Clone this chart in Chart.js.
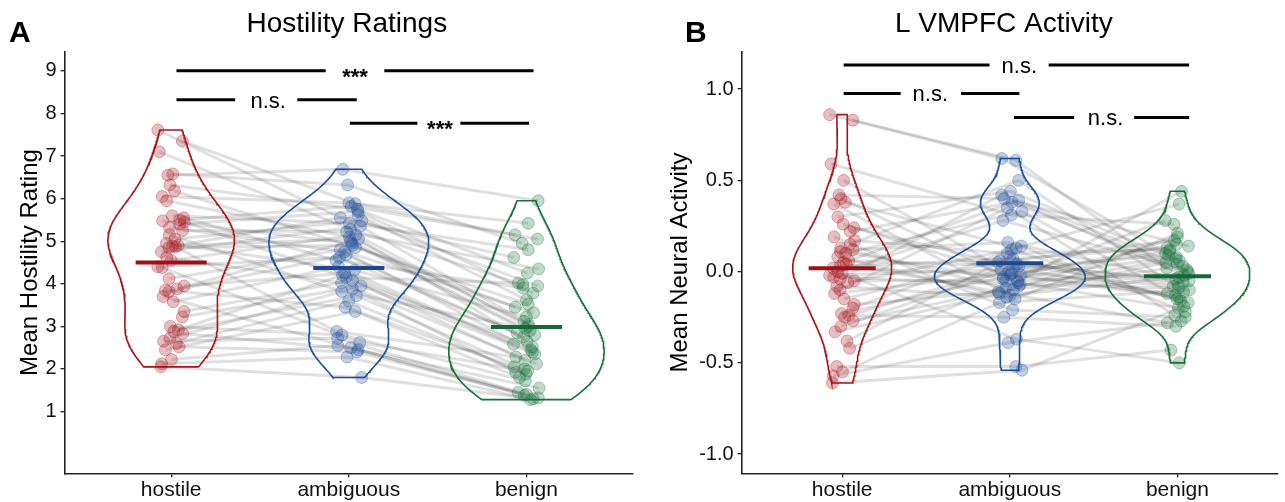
<!DOCTYPE html>
<html>
<head>
<meta charset="utf-8">
<script src="https://cdn.jsdelivr.net/npm/chart.js@4.4.1/dist/chart.umd.min.js"></script>
<style>
  html, body { margin: 0; padding: 0; background: #fff; }
  #wrap { position: relative; width: 1285px; height: 502px; overflow: hidden; }
  .panel { position: absolute; top: 0; height: 502px; }
</style>
</head>
<body>
<div id="wrap">
  <div class="panel" style="left:0px;width:640px"><canvas id="chartA" width="640" height="502"></canvas></div>
  <div class="panel" style="left:640px;width:645px"><canvas id="chartB" width="645" height="502"></canvas></div>
</div>
<script>
// categories on the x axis
const categories = ['hostile', 'ambiguous', 'benign'];

// Panel A: mean hostility rating per participant (same participant order in all three)
const hostilityHostile = [7.61, 7.35, 7.10, 6.58, 6.55, 6.32, 6.18, 6.05, 5.95, 5.60, 5.55, 5.50, 5.48, 5.45, 5.40, 5.32, 5.25, 5.15, 5.05, 4.95, 4.90, 4.88, 4.87, 4.85, 4.75, 4.62, 4.55, 4.40, 4.38, 4.12, 3.95, 3.88, 3.85, 3.82, 3.70, 3.58, 3.35, 3.22, 3.00, 2.92, 2.88, 2.83, 2.72, 2.65, 2.60, 2.52, 2.45, 2.22, 2.12, 2.05];
const hostilityAmbiguous = [5.55, 5.88, 5.28, 6.32, 6.69, 5.75, 4.85, 5.90, 5.10, 5.42, 4.55, 5.82, 4.95, 4.15, 5.70, 4.75, 5.22, 3.82, 5.48, 4.32, 5.05, 5.62, 2.88, 4.90, 5.35, 4.02, 5.15, 4.62, 2.62, 4.80, 4.25, 5.00, 3.45, 4.68, 2.50, 4.40, 4.08, 3.95, 2.80, 4.20, 3.72, 2.45, 3.88, 2.72, 3.60, 2.40, 3.35, 2.55, 2.28, 1.80];
const hostilityBenign = [4.62, 5.15, 3.98, 4.95, 5.95, 4.25, 3.52, 5.42, 3.05, 4.80, 3.90, 5.05, 2.80, 4.02, 3.78, 2.45, 4.35, 2.95, 3.95, 3.22, 2.65, 3.62, 2.28, 3.45, 3.12, 2.12, 3.00, 2.85, 1.95, 3.32, 2.58, 2.90, 2.05, 2.75, 1.45, 2.40, 2.52, 2.35, 1.72, 2.20, 2.00, 1.38, 1.92, 1.40, 1.88, 1.32, 1.80, 1.55, 1.28, 1.30];
const hostilityTicks = [1, 2, 3, 4, 5, 6, 7, 8, 9];

// Panel B: mean L VMPFC activity per participant
const vmpfcHostile = [0.86, 0.83, 0.59, 0.50, 0.42, 0.40, 0.38, 0.37, 0.30, 0.26, 0.24, 0.22, 0.19, 0.17, 0.15, 0.13, 0.12, 0.11, 0.10, 0.08, 0.06, 0.05, 0.04, 0.03, 0.02, 0.00, -0.01, -0.02, -0.03, -0.04, -0.05, -0.06, -0.08, -0.10, -0.12, -0.15, -0.18, -0.20, -0.23, -0.24, -0.25, -0.27, -0.30, -0.33, -0.38, -0.42, -0.52, -0.55, -0.57, -0.61];
const vmpfcAmbiguous = [0.62, 0.61, 0.31, 0.00, 0.40, -0.06, 0.13, -0.13, 0.44, -0.02, 0.05, 0.38, -0.21, 0.10, 0.50, -0.09, 0.16, -0.04, 0.33, -0.15, 0.03, 0.39, -0.11, 0.07, -0.02, 0.28, -0.37, 0.01, -0.07, 0.42, -0.05, 0.12, -0.14, 0.35, -0.01, 0.06, -0.10, 0.14, -0.03, -0.25, 0.04, -0.08, 0.02, -0.12, 0.08, -0.05, -0.52, -0.17, -0.39, -0.54];
const vmpfcBenign = [0.10, 0.02, 0.26, -0.08, 0.14, -0.20, 0.37, -0.03, 0.06, -0.14, 0.17, 0.00, -0.25, 0.12, -0.11, 0.44, -0.05, 0.08, -0.17, 0.21, -0.07, 0.04, -0.28, 0.13, -0.13, 0.01, -0.50, 0.09, -0.09, -0.02, 0.28, -0.16, 0.05, -0.24, 0.11, -0.06, 0.03, -0.22, 0.15, -0.30, -0.04, 0.07, -0.12, 0.19, -0.15, -0.01, -0.43, -0.10, -0.27, -0.19];
const vmpfcTicks = [-1.0, -0.5, 0.0, 0.5, 1.0];

// significance bars: line from..to with a gap for the label
const hostilityBrackets = [
  { from: 1.03, to: 3.04, gapFrom: 1.87, gapTo: 2.20, y: 9.0, label: '***', at: 2.035 },
  { from: 1.03, to: 2.045, gapFrom: 1.36, gapTo: 1.71, y: 8.32, label: 'n.s.', at: 1.546 },
  { from: 2.006, to: 3.015, gapFrom: 2.386, gapTo: 2.628, y: 7.77, label: '***', at: 2.513 }
];
const vmpfcBrackets = [
  { from: 1.009, to: 3.07, gapFrom: 1.879, gapTo: 2.232, y: 1.132, label: 'n.s.', at: 2.057 },
  { from: 1.009, to: 2.057, gapFrom: 1.349, gapTo: 1.709, y: 0.976, label: 'n.s.', at: 1.526 },
  { from: 2.025, to: 3.07, gapFrom: 2.384, gapTo: 2.742, y: 0.845, label: 'n.s.', at: 2.571 }
];

const colors = [[168, 20, 28], [29, 79, 155], [23, 113, 58]];
const FONT = '"Liberation Sans", Arial, Helvetica, sans-serif';
const rgba = (c, a) => `rgba(${c[0]},${c[1]},${c[2]},${a})`;

// fixed horizontal spread of the dots (layout only, deterministic hash)
const jitter = (i, g) => {
  const h = Math.sin(i * 12.9898 + g * 78.233) * 43758.5453;
  return ((h - Math.floor(h)) - 0.5) * 0.15;
};

// ggplot-like violin: gaussian kde, bw.nrd0, trimmed to data range
function density(values) {
  const s = values.slice().sort((a, b) => a - b);
  const n = s.length;
  const mean = s.reduce((a, b) => a + b, 0) / n;
  const sd = Math.sqrt(s.reduce((a, v) => a + (v - mean) ** 2, 0) / (n - 1));
  const q = p => { const h = (n - 1) * p, lo = Math.floor(h); return s[lo] + (h - lo) * ((s[lo + 1] ?? s[lo]) - s[lo]); };
  const bw = 0.9 * Math.min(sd, (q(0.75) - q(0.25)) / 1.34) * Math.pow(n, -0.2);
  const out = [];
  const steps = 200;
  for (let k = 0; k <= steps; k++) {
    const y = s[0] + (s[n - 1] - s[0]) * k / steps;
    let d = 0;
    for (const v of s) { const z = (y - v) / bw; d += Math.exp(-0.5 * z * z); }
    out.push({ y, d: d / (n * bw * Math.sqrt(2 * Math.PI)) });
  }
  return out;
}

const panelText = {
  id: 'panelText',
  afterDraw(chart, args, o) {
    const { ctx, chartArea: ca, scales: { x, y } } = chart;
    ctx.save();
    ctx.fillStyle = '#000';
    ctx.textBaseline = 'alphabetic';
    ctx.textAlign = 'left';
    ctx.font = `bold 30px ${FONT}`;
    ctx.fillText(o.letter, o.letterX, 42);
    ctx.textAlign = 'center';
    ctx.font = `28px ${FONT}`;
    ctx.fillText(o.title, (ca.left + ca.right) / 2 + o.titleShift, 32);
    // significance labels
    o.brackets.forEach(b => {
      const stars = b.label === '***';
      ctx.font = stars ? `bold 22px ${FONT}` : `22px ${FONT}`;
      const py = y.getPixelForValue(b.y) + (stars ? 13 : 8);
      ctx.fillText(b.label, x.getPixelForValue(b.at), py);
    });
    // y axis title
    ctx.translate(o.yTitleX, (ca.top + ca.bottom) / 2);
    ctx.rotate(-Math.PI / 2);
    ctx.font = `24px ${FONT}`;
    ctx.fillText(o.yTitle, 0, 0);
    ctx.restore();
  }
};

function buildPanel(id, cfg) {
  const series = cfg.series;
  const datasets = [];

  // paired participant lines
  series[0].forEach((_, i) => {
    datasets.push({
      data: series.map((s, g) => ({ x: g + 1 + jitter(i, g), y: s[i] })),
      showLine: true, borderColor: 'rgba(0,0,0,0.12)', borderWidth: 3,
      pointRadius: 0, order: 4
    });
  });

  // violins, scale = "area", width 0.9
  const dens = series.map(density);
  const maxD = Math.max(...dens.map(d => Math.max(...d.map(p => p.d))));
  dens.forEach((d, g) => {
    const cx = g + 1;
    const right = d.map(p => ({ x: cx + 0.45 * p.d / maxD, y: p.y }));
    const left = d.slice().reverse().map(p => ({ x: cx - 0.45 * p.d / maxD, y: p.y }));
    datasets.push({
      data: right.concat(left, [right[0]]),
      showLine: true, borderColor: rgba(colors[g], 1), borderWidth: 1.6,
      pointRadius: 0, fill: false, order: 3
    });
  });

  // dots
  series.forEach((s, g) => {
    datasets.push({
      data: s.map((v, i) => ({ x: g + 1 + jitter(i, g), y: v })),
      pointRadius: 6, backgroundColor: rgba(colors[g], 0.27),
      borderColor: rgba(colors[g], 0.32), borderWidth: 1, order: 2
    });
  });

  // mean bars
  series.forEach((s, g) => {
    const m = s.reduce((a, b) => a + b, 0) / s.length;
    datasets.push({
      data: [{ x: g + 0.8, y: m }, { x: g + 1.2, y: m }],
      showLine: true, borderColor: rgba(colors[g].map(c => c * 0.92), 1), borderWidth: 4,
      borderCapStyle: 'butt', pointRadius: 0, order: 1
    });
  });

  // significance bars
  cfg.brackets.forEach(b => {
    [[b.from, b.gapFrom], [b.gapTo, b.to]].forEach(([a, c]) => {
      datasets.push({
        data: [{ x: a, y: b.y }, { x: c, y: b.y }],
        showLine: true, borderColor: '#000', borderWidth: 3,
        borderCapStyle: 'butt', pointRadius: 0, order: 0
      });
    });
  });

  const axisGrid = { display: true, drawOnChartArea: false, drawTicks: true, tickLength: 4, color: '#222', lineWidth: 1.3 };
  const axisBorder = { display: true, color: '#222', width: 1.6 };

  new Chart(document.getElementById(id), {
    type: 'scatter',
    data: { datasets },
    options: {
      responsive: false,
      animation: false,
      devicePixelRatio: 1,
      layout: { padding: { top: 51.7, right: cfg.padRight, left: 0, bottom: 0 } },
      plugins: {
        legend: { display: false },
        tooltip: { enabled: false },
        panelText: cfg.text
      },
      scales: {
        x: {
          type: 'linear', min: 0.4, max: 3.6,
          afterBuildTicks: s => { s.ticks = categories.map((c, i) => ({ value: i + 1 })); },
          afterFit: s => { s.height = 28.7; },
          ticks: {
            callback: v => categories[Math.round(v) - 1],
            font: { family: FONT, size: 21 }, color: '#111', padding: 0,
            maxRotation: 0, autoSkip: false
          },
          grid: axisGrid, border: axisBorder
        },
        y: {
          type: 'linear', min: cfg.yMin, max: cfg.yMax,
          afterBuildTicks: s => { s.ticks = cfg.ticks.map(v => ({ value: v })); },
          afterFit: s => { s.width = cfg.yAxisWidth; },
          ticks: {
            callback: cfg.fmt,
            font: { family: FONT, size: 20 }, color: '#111', padding: 4, autoSkip: false
          },
          grid: axisGrid, border: axisBorder
        }
      }
    },
    plugins: [panelText]
  });
}

buildPanel('chartA', {
  series: [hostilityHostile, hostilityAmbiguous, hostilityBenign],
  ticks: hostilityTicks, yMin: -0.45, yMax: 9.45,
  fmt: v => String(v),
  brackets: hostilityBrackets,
  yAxisWidth: 64.6, padRight: 4,
  text: { letter: 'A', letterX: 9, title: 'Hostility Ratings', titleShift: -2,
          yTitle: 'Mean Hostility Rating', yTitleX: 36.5, brackets: hostilityBrackets }
});

buildPanel('chartB', {
  series: [vmpfcHostile, vmpfcAmbiguous, vmpfcBenign],
  ticks: vmpfcTicks, yMin: -1.105, yMax: 1.205,
  fmt: v => v.toFixed(1),
  brackets: vmpfcBrackets,
  yAxisWidth: 101.6, padRight: 2,
  text: { letter: 'B', letterX: 45, title: 'L VMPFC Activity', titleShift: -6,
          yTitle: 'Mean Neural Activity', yTitleX: 47.3, brackets: vmpfcBrackets }
});
</script>
</body>
</html>
